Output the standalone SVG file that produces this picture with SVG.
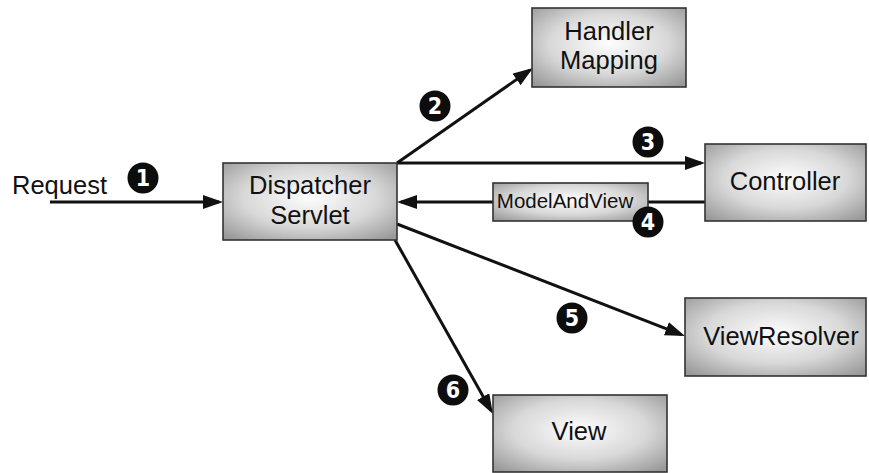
<svg xmlns="http://www.w3.org/2000/svg" width="869" height="473" viewBox="0 0 869 473">
  <style>
    .box { stroke: #333; stroke-width: 1.6; fill: url(#boxFill); }
    .lbl { font-family: "Liberation Sans", Arial, sans-serif; font-size: 25.5px; fill: #111; text-anchor: middle; }
    .conn { stroke: #111; stroke-width: 3; fill: none; }
    .arrow { marker-end: url(#head); }
    .badge circle { fill: #0d0d0d; }
    .badge text { font-family: "DejaVu Sans Condensed", "DejaVu Sans", sans-serif; font-stretch: condensed; font-weight: bold; font-size: 23px; fill: #fff; text-anchor: middle; }
  </style>
  <defs>
    <radialGradient id="boxFill" cx="0.5" cy="0.45" r="0.7">
      <stop offset="0" stop-color="#fdfdfd"/>
      <stop offset="0.55" stop-color="#d8d8d8"/>
      <stop offset="1" stop-color="#999"/>
    </radialGradient>
    <marker id="head" markerUnits="userSpaceOnUse" markerWidth="20" markerHeight="14" refX="16" refY="7" orient="auto">
      <path d="M0,0 L20,7 L0,14 Z" fill="#111"/>
    </marker>
  </defs>

  <rect width="869" height="473" fill="#fff"/>

  <!-- connectors -->
  <g id="connectors">
    <line class="conn arrow" x1="50" y1="202" x2="219" y2="202"/>
    <line class="conn arrow" x1="397" y1="163" x2="529.7" y2="70.3"/>
    <line class="conn arrow" x1="397" y1="163" x2="701" y2="163"/>
    <line class="conn arrow" x1="705" y1="202" x2="401" y2="202"/>
    <line class="conn arrow" x1="397" y1="224" x2="681.3" y2="334.6"/>
    <line class="conn arrow" x1="395" y1="240" x2="491" y2="410.5"/>
  </g>

  <text id="request" class="lbl" x="12" y="194" style="text-anchor:start">Request</text>

  <g id="dispatcher">
    <rect class="box" x="223" y="163" width="174" height="77"/>
    <text class="lbl" x="310" y="194">Dispatcher</text>
    <text class="lbl" x="310" y="224">Servlet</text>
  </g>

  <g id="handler-mapping">
    <rect class="box" x="532" y="8" width="154" height="79"/>
    <text class="lbl" x="609" y="40">Handler</text>
    <text class="lbl" x="609" y="69">Mapping</text>
  </g>

  <g id="controller">
    <rect class="box" x="705" y="144" width="161" height="77"/>
    <text class="lbl" x="785" y="190">Controller</text>
  </g>

  <g id="model-and-view">
    <rect class="box" x="493" y="183" width="155" height="38"/>
    <text class="lbl" x="565" y="208" style="font-size:20.5px">ModelAndView</text>
  </g>

  <g id="view-resolver">
    <rect class="box" x="685" y="298" width="181" height="78"/>
    <text class="lbl" x="781" y="345">ViewResolver</text>
  </g>

  <g id="view">
    <rect class="box" x="493" y="395" width="174" height="77"/>
    <text class="lbl" x="579" y="440">View</text>
  </g>

  <!-- step numbers -->
  <g id="steps">
    <g class="badge"><circle cx="143" cy="178" r="15.5"/><text x="143" y="186">1</text></g>
    <g class="badge"><circle cx="435" cy="106" r="15.5"/><text x="435" y="114">2</text></g>
    <g class="badge"><circle cx="648" cy="142" r="15.5"/><text x="648" y="150">3</text></g>
    <g class="badge"><circle cx="648" cy="222" r="15.5"/><text x="648" y="230">4</text></g>
    <g class="badge"><circle cx="572" cy="318" r="15.5"/><text x="572" y="326">5</text></g>
    <g class="badge"><circle cx="453" cy="390" r="15.5"/><text x="453" y="398">6</text></g>
  </g>
</svg>
